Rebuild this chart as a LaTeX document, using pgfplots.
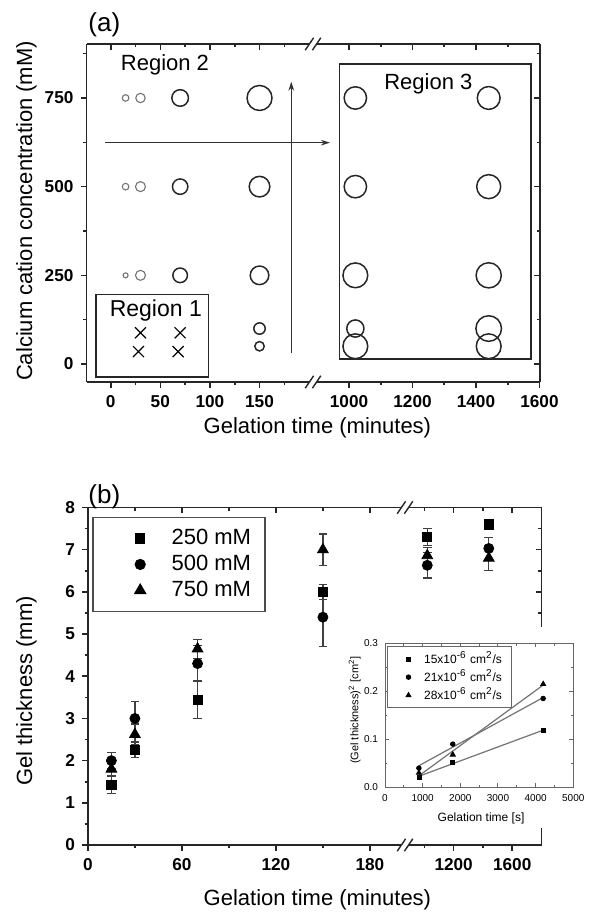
\documentclass[border=0pt]{standalone}
\usepackage{fontspec}
\setmainfont{Liberation Sans}
\usepackage{pgfplots}
\pgfplotsset{compat=1.18}
\usetikzlibrary{arrows.meta}

\pgfplotsset{
  every non boxed x axis/.append style={x axis line style={-}},
  every non boxed y axis/.append style={y axis line style={-}},
  seg/.style={
    scale only axis, anchor=south west, clip=false,
    axis line style={line width=0.8pt, black!85},
    tick style={line width=0.8pt, black!85},
    major tick length=3pt, minor tick length=1.7pt,
    ticklabel style={font=\bfseries\fontsize{8.6}{9.5}\selectfont},
    /pgf/number format/assume math mode=true,
    /pgf/number format/set thousands separator={},
  },
  lower/.style={seg, tick align=outside, axis x line*=bottom},
  upper/.style={seg, tick align=inside, axis x line*=top,
    xticklabels={}, yticklabels={}},
  % circles whose radius (pt) is read from column r
  ring/.style={scatter, only marks, mark=o,
    scatter/use mapped color={draw=#1, fill=none},
    visualization depends on={\thisrow{r} \as \rad},
    scatter/@pre marker code/.append style={/tikz/mark size=\rad pt}},
  lgA/.style={legend image code/.code={%
    \path (0pt,0pt) (31.7pt,0pt);
    \draw[##1] plot coordinates {(17.8pt,0pt)};}},
  lgB/.style={legend image code/.code={%
    \path (0pt,0pt) (13.3pt,0pt);
    \draw[##1] plot coordinates {(6.5pt,0pt)};}},
  ebar/.style={error bars/.cd, y dir=both, y explicit,
    error bar style={line width=0.6pt, black!75},
    error mark options={rotate=90, mark size=2.2pt, line width=0.6pt, black!75}},
}

\newcommand\brk[2]{%
  \fill[white] ({#1-1.8pt},{#2-0.9pt}) rectangle ({#1+1.8pt},{#2+0.9pt});
  \draw[line width=0.7pt, black!85] ({#1-3.9pt},{#2-3.1pt}) -- ({#1+0.3pt},{#2+3.1pt});
  \draw[line width=0.7pt, black!85] ({#1-0.3pt},{#2-3.1pt}) -- ({#1+3.9pt},{#2+3.1pt});
}

\begin{document}
\begin{tikzpicture}
\useasboundingbox (0,0) rectangle (294.5pt,456.5pt);

% ---------------- panel (a) ----------------
\begin{axis}[lower, axis y line*=left, at={(43.25pt,265.5pt)},
  width=113.25pt, height=169pt,
  xmin=-24.4, xmax=203.9, ymin=-50.7, ymax=902.2,
  xtick={0,50,100,150}, minor xtick={25,75,125,175},
  ytick={0,250,500,750}, minor ytick={125,375,625,875}]
\addplot[ring=black!55, line width=0.55pt] table {
x y r
15 750 1.65
30 750 2.35
15 500 1.65
30 500 2.5
15 250 1.25
30 250 2.5
};
\addplot[ring=black!85, line width=0.75pt] table {
x y r
70 750 4.15
150 750 6.25
70 500 3.85
150 500 5.15
70 250 3.65
150 250 4.65
150 100 2.85
150 50 2.35
};
\addplot[only marks, mark=x, mark size=3.9pt, line width=0.6pt, black] coordinates {
  (30,88) (70,88) (28,35) (68,35)};
\draw[line width=0.8pt, black!85] (-14.8,-35.8) rectangle (98.4,196.5);
\node[font=\fontsize{11.5}{13}\selectfont] at (45.5,152) {Region 1};
\node[font=\fontsize{11}{13}\selectfont] at (54.7,843) {Region 2};
\draw[line width=0.6pt, black!80, -{Stealth[length=4.5pt,width=2.8pt]}] (-5.7,624) -- (221,624);
\draw[line width=0.6pt, black!80, -{Stealth[length=4.5pt,width=2.8pt]}] (182,30) -- (182,796);
\end{axis}

\begin{axis}[lower, axis y line=none, at={(156.5pt,265.5pt)},
  width=113.5pt, height=169pt,
  xmin=886.6, xmax=1601.6, ymin=-50.7, ymax=902.2,
  xtick={1000,1200,1400,1600}, minor xtick={1100,1300,1500}]
\addplot[ring=black!85, line width=0.75pt] table {
x y r
1020 750 5.6
1440 750 5.7
1020 500 5.6
1440 500 6.0
1020 250 6.2
1440 250 6.3
1020 100 4.3
1440 100 6.4
1020 50 6.2
1440 50 6.2
};
\draw[line width=0.8pt, black!85] (969.5,13.3) rectangle (1573,845);
\node[font=\fontsize{11}{13}\selectfont] at (1250,791) {Region 3};
\end{axis}

\begin{axis}[upper, axis y line=none, at={(43.25pt,265.5pt)},
  width=113.25pt, height=169pt,
  xmin=-24.4, xmax=203.9, ymin=-50.7, ymax=902.2,
  xtick={0,50,100,150}, minor xtick={25,75,125,175}]
\end{axis}
\begin{axis}[upper, axis y line*=right, at={(156.5pt,265.5pt)},
  width=113.5pt, height=169pt,
  xmin=886.6, xmax=1601.6, ymin=-50.7, ymax=902.2,
  xtick={1000,1200,1400,1600}, minor xtick={1100,1300,1500},
  ytick={0,250,500,750}, minor ytick={125,375,625,875}]
\end{axis}

% ---------------- panel (b) ----------------
\begin{axis}[lower, axis y line*=left, at={(43.95pt,34pt)},
  width=158.55pt, height=168.75pt,
  xmin=0, xmax=202.4, ymin=0, ymax=8,
  xtick={0,60,120,180}, minor xtick={30,90,150},
  ytick={0,1,...,8}, minor ytick={0.5,1.5,...,7.5},
  legend cell align=left,
  legend style={at={(axis description cs:0.0142,0.9727)}, anchor=north west,
    draw=black!70, line width=0.6pt, font=\fontsize{11}{13}\selectfont,
    inner xsep=5.5pt, inner ysep=4.5pt, row sep=0.8pt, nodes={inner sep=1.5pt}}]
\addplot[only marks, mark=square*, mark size=2.3pt, black, lgA, ebar]
  table[x=x, y=y, y error=e] {
x y e
15 1.43 0.2
30 2.26 0.18
70 3.44 0.45
150 6.0 0.18
};
\addlegendentry{250 mM}
\addplot[only marks, mark=*, mark size=2.5pt, black, lgA, ebar]
  table[x=x, y=y, y error=e] {
x y e
15 2.0 0.2
30 3.0 0.4
70 4.3 0.42
150 5.4 0.7
};
\addlegendentry{500 mM}
\addplot[only marks, mark=triangle*, mark size=3.1pt, black, lgA, ebar]
  table[x=x, y=y, y error=e] {
x y e
15 1.8 0.15
30 2.62 0.25
70 4.65 0.22
150 7.0 0.37
};
\addlegendentry{750 mM}
\end{axis}

\begin{axis}[lower, axis y line=none, at={(202.5pt,34pt)},
  width=68.25pt, height=168.75pt,
  xmin=868, xmax=1800, ymin=0, ymax=8,
  xtick={1200,1600}, minor xtick={1000,1400}]
\addplot[only marks, mark=square*, mark size=2.3pt, black, ebar]
  table[x=x, y=y, y error=e] {
x y e
1020 7.3 0.2
1440 7.6 0.0
};
\addplot[only marks, mark=*, mark size=2.5pt, black, ebar]
  table[x=x, y=y, y error=e] {
x y e
1020 6.63 0.3
1440 7.03 0.26
};
\addplot[only marks, mark=triangle*, mark size=3.1pt, black, ebar]
  table[x=x, y=y, y error=e] {
x y e
1020 6.86 0.2
1440 6.8 0.3
};
\end{axis}

\begin{axis}[upper, axis y line=none, at={(43.95pt,34pt)},
  width=158.55pt, height=168.75pt,
  xmin=0, xmax=202.4, ymin=0, ymax=8,
  xtick={0,60,120,180}, minor xtick={30,90,150}]
\end{axis}
\begin{axis}[upper, axis y line*=right, at={(202.5pt,34pt)},
  width=68.25pt, height=168.75pt,
  xmin=868, xmax=1800, ymin=0, ymax=8,
  xtick={1200,1600}, minor xtick={1000,1400},
  ytick={0,1,...,8}, minor ytick={0.5,1.5,...,7.5}]
\end{axis}

% inset
\fill[white] (170pt,42.5pt) rectangle (294.5pt,143pt);
\begin{axis}[at={(192.5pt,62.85pt)}, anchor=south west, scale only axis,
  width=94.15pt, height=72pt,
  xmin=0, xmax=5000, ymin=0, ymax=0.3,
  xtick={0,1000,...,5000}, minor x tick num=1,
  ytick={0,0.1,0.2,0.3}, minor y tick num=1,
  tick align=inside, major tick length=2pt, minor tick length=1.2pt,
  axis line style={black!60, line width=0.5pt},
  tick style={black!60, line width=0.5pt},
  ticklabel style={font=\fontsize{5}{6}\selectfont},
  /pgf/number format/assume math mode=true,
  /pgf/number format/set thousands separator={},
  yticklabel style={/pgf/number format/.cd, fixed, fixed zerofill, precision=1},
  xlabel={Gelation time [s]},
  ylabel={(Gel thickness)\textsuperscript{2} [cm\textsuperscript{2}]},
  xlabel style={font=\fontsize{6}{7}\selectfont, at={(axis description cs:0.51,-0.215)}, anchor=center},
  ylabel style={font=\fontsize{5.5}{6.5}\selectfont, at={(axis description cs:-0.161,0.537)}, anchor=center},
  legend cell align=left,
  legend style={at={(axis description cs:0.009,0.981)}, anchor=north west,
    draw=black!60, line width=0.4pt, font=\fontsize{6}{7}\selectfont,
    inner xsep=4pt, inner ysep=1.7pt, nodes={inner sep=0.8pt}}]
\addplot[black!55, line width=0.6pt, forget plot] coordinates {(900,0.023) (4200,0.119)};
\addplot[black!55, line width=0.6pt, forget plot] coordinates {(900,0.045) (4200,0.187)};
\addplot[black!55, line width=0.6pt, forget plot] coordinates {(900,0.024) (4200,0.213)};
\addplot[only marks, mark=square*, mark size=1pt, black, lgB] coordinates {
  (900,0.021) (1800,0.052) (4200,0.118)};
\addlegendentry{15x10\textsuperscript{-6} cm\textsuperscript{2}/s}
\addplot[only marks, mark=*, mark size=1.15pt, black, lgB] coordinates {
  (900,0.040) (1800,0.090) (4200,0.185)};
\addlegendentry{21x10\textsuperscript{-6} cm\textsuperscript{2}/s}
\addplot[only marks, mark=triangle*, mark size=1.45pt, black, lgB] coordinates {
  (900,0.030) (1800,0.068) (4200,0.215)};
\addlegendentry{28x10\textsuperscript{-6} cm\textsuperscript{2}/s}
\end{axis}

% axis breaks
\brk{156.5pt}{434.5pt}
\brk{156.5pt}{265.5pt}
\brk{202.5pt}{202.75pt}
\brk{202.5pt}{34pt}

% panel letters and axis titles
\node[anchor=west, inner sep=0pt, font=\fontsize{13}{15}\selectfont] at (44pt,444pt) {(a)};
\node[anchor=west, inner sep=0pt, font=\fontsize{13}{15}\selectfont] at (44pt,208.2pt) {(b)};
\node[rotate=90, font=\fontsize{11}{13}\selectfont] at (13.2pt,351pt) {Calcium cation concentration (mM)};
\node[rotate=90, font=\fontsize{11}{13}\selectfont] at (13.2pt,111pt) {Gel thickness (mm)};
\node[anchor=base, font=\fontsize{11}{13}\selectfont] at (158.7pt,239.5pt) {Gelation time (minutes)};
\node[anchor=base, font=\fontsize{11}{13}\selectfont] at (158.7pt,3.5pt) {Gelation time (minutes)};
\end{tikzpicture}
\end{document}
